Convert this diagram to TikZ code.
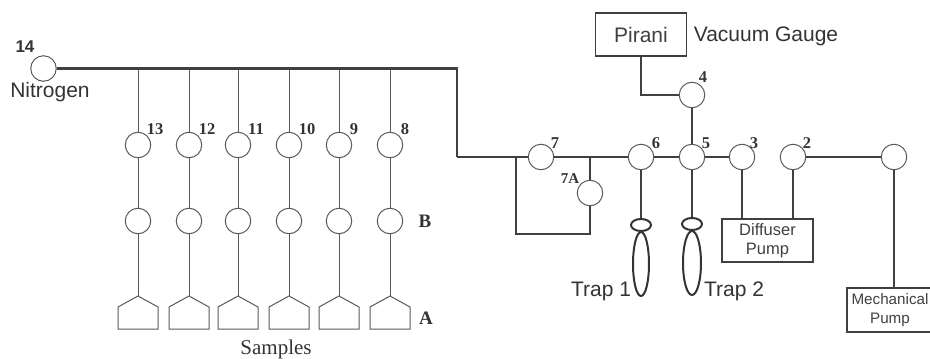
\documentclass[tikz,border=0pt]{standalone}
\usepackage{fontspec}
\usetikzlibrary{shapes.geometric}
\setmainfont{Liberation Serif}
\setsansfont{Liberation Sans}
\tikzset{
    valve/.style={circle, draw=black!65, fill=white, line width=1pt, minimum size=25.5pt, inner sep=0pt},
    thinline/.style={draw=black!65, line width=1pt},
    pipe/.style={draw=black!75, line width=1.7pt},
    mainpipe/.style={draw=black!75, line width=2.2pt},
    trapshape/.style={ellipse, draw=black!80, line width=2pt, inner sep=0pt},
    numlabel/.style={inner sep=0pt, text=black!80, font=\bfseries\fontsize{16.5}{16.5}\selectfont},
    biglabel/.style={inner sep=0pt, text=black!80, font=\sffamily\fontsize{21}{21}\selectfont},
    boxlabel/.style={draw=black!75, line width=1.7pt, align=center, inner sep=0pt, text=black!75, font=\sffamily\fontsize{16.5}{19}\selectfont},
}

\begin{document}
\begin{tikzpicture}[x=1pt, y=-1pt]
    \useasboundingbox (0,0) rectangle (930,359);
    \clip (0,0) rectangle (930,359);

    % Nitrogen inlet and the main line
    \node[valve] (v14) at (43.5,68.5) {};
    \coordinate (corner1) at (457,68.5);
    \coordinate (corner2) at (457,157);
    \node[numlabel, font=\sffamily\bfseries\fontsize{17}{17}\selectfont] (l14) at (25,47) {14};
    \node[biglabel] (nitrogen) at (50,92) {Nitrogen};

    % Sample columns
    \foreach \n/\x/\lx in {13/138/155, 12/189/207, 11/238/256, 10/289/307, 9/339/354, 8/390/405} {
        \coordinate (t\n) at (\x,68.5);
        \node[valve] (v\n) at (\x,145) {};
        \node[valve] (b\n) at (\x,221) {};
        \coordinate (s\n) at (\x,296);
        \draw[thinline] (t\n) -- (v\n);
        \draw[thinline] (v\n) -- (b\n);
        \draw[thinline] (b\n) -- (s\n);
        \draw[thinline] (s\n) -- ++(20,11) -- ++(0,22) -- ++(-40,0) -- ++(0,-22) -- cycle;
        \node[numlabel] (l\n) at (\lx,129) {\n};
    }
    \draw[mainpipe] (v14) -- (corner1) -- (corner2);

    % Valves along the pump line
    \node[valve] (v7) at (541,157) {};
    \node[valve] (v7A) at (590,193) {};
    \node[valve] (v6) at (641,157) {};
    \node[valve] (v5) at (692,157) {};
    \node[valve] (v4) at (692,95) {};
    \node[valve] (v3) at (742,157) {};
    \node[valve] (v2) at (793,157) {};
    \node[valve] (v1) at (894,157) {};

    % Boxes
    \node[boxlabel, minimum width=91pt, minimum height=43pt, font=\sffamily\fontsize{21}{21}\selectfont] (pirani) at (641,34.5) {Pirani};
    \node[boxlabel, minimum width=91pt, minimum height=43pt] (diffuser) at (767.5,240.5) {Diffuser\\Pump};
    \node[boxlabel, minimum width=86pt, minimum height=44pt, font=\sffamily\fontsize{15.2}{19}\selectfont] (mechanical) at (890,310) {Mechanical\\Pump};

    % Pipes
    \coordinate (j7) at (516,157);
    \coordinate (j7A) at (590,157);
    \coordinate (bypass1) at (516,234);
    \coordinate (bypass2) at (590,234);
    \coordinate (j4) at (641,95);
    \draw[pipe] (corner2) -- (v7);
    \draw[pipe] (v7) -- (v6);
    \draw[pipe] (v6) -- (v5);
    \draw[pipe] (v5) -- (v3);
    \draw[pipe] (v2) -- (v1);
    \draw[pipe] (j7) -- (bypass1) -- (bypass2) -- (v7A);
    \draw[pipe] (v7A) -- (j7A);
    \draw[pipe] (pirani.south) -- (j4) -- (v4);
    \draw[pipe] (v4) -- (v5);
    \draw[pipe] (v3) -- (v3 |- diffuser.north);
    \draw[pipe] (v2) -- (v2 |- diffuser.north);
    \draw[pipe] (v1) -- (v1 |- mechanical.north);

    % Traps
    \node[trapshape, minimum width=20pt, minimum height=12pt] (neck1) at (641,225) {};
    \node[trapshape, minimum width=16pt, minimum height=64pt] (trap1) at (641,264) {};
    \node[trapshape, minimum width=20pt, minimum height=12pt] (neck2) at (692,224) {};
    \node[trapshape, minimum width=18pt, minimum height=64pt] (trap2) at (692,263) {};
    \draw[pipe] (v6) -- (neck1);
    \draw[pipe] (v5) -- (neck2);

    % Labels
    \node[numlabel] (l7) at (555,143) {7};
    \node[numlabel, font=\bfseries\fontsize{15}{15}\selectfont] (l7A) at (570,179) {7A};
    \node[numlabel] (l6) at (656,143) {6};
    \node[numlabel] (l5) at (706,143) {5};
    \node[numlabel] (l4) at (703,77) {4};
    \node[numlabel] (l3) at (754,143) {3};
    \node[numlabel] (l2) at (807,143) {2};
    \node[numlabel, font=\bfseries\fontsize{19}{19}\selectfont] (lb) at (425,221) {B};
    \node[numlabel, font=\bfseries\fontsize{19}{19}\selectfont] (la) at (426,318) {A};
    \node[inner sep=0pt, text=black!80, font=\fontsize{21}{21}\selectfont] (samples) at (276,349) {Samples};
    \node[biglabel] (gauge) at (766,36) {Vacuum Gauge};
    \node[biglabel] (ltrap1) at (601,291) {Trap 1};
    \node[biglabel] (ltrap2) at (734,291) {Trap 2};
\end{tikzpicture}
\end{document}
